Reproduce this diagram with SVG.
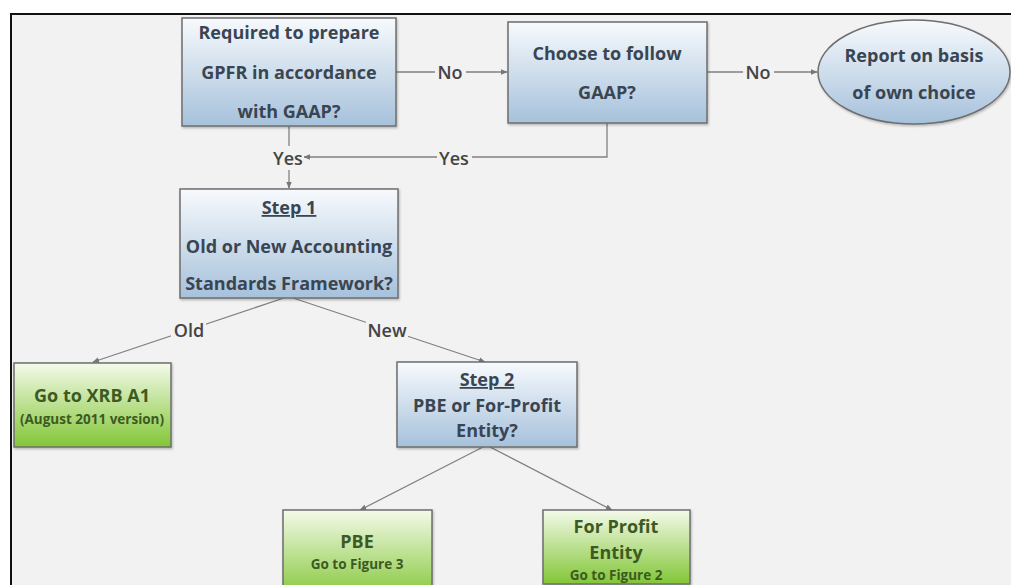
<svg xmlns="http://www.w3.org/2000/svg" width="1011" height="585" viewBox="0 0 1011 585">
<defs>
<linearGradient id="blue" x1="0" y1="0" x2="0" y2="1">
<stop offset="0" stop-color="#f7fafd"/>
<stop offset="1" stop-color="#a6c1db"/>
</linearGradient>
<linearGradient id="green" x1="0" y1="0" x2="0" y2="1">
<stop offset="0" stop-color="#f4faea"/>
<stop offset="1" stop-color="#82c636"/>
</linearGradient>
<marker id="arr" viewBox="0 0 10 10" refX="9" refY="5" markerWidth="7" markerHeight="7" orient="auto-start-reverse" markerUnits="userSpaceOnUse">
<path d="M0,1 L10,5 L0,9 z" fill="#777"/>
</marker>
<filter id="sh" x="-10%" y="-10%" width="120%" height="130%">
<feDropShadow dx="1" dy="1.5" stdDeviation="1" flood-color="#000" flood-opacity="0.25"/>
</filter>
</defs>
<style>
.box{stroke:#6e6e6e;stroke-width:1.5;filter:url(#sh)}
.t{font-family:"Open Sans","Noto Sans",sans-serif;font-weight:bold;font-size:18px;fill:#3a4552;text-anchor:middle}
.g{fill:#3c5a22}
.s{font-size:13.5px}
.lbl{font-family:"Open Sans","Noto Sans",sans-serif;font-weight:600;font-size:18px;fill:#444;text-anchor:middle}
.ln{stroke:#808080;stroke-width:1.3;fill:none}
</style>
<rect x="0" y="0" width="1011" height="585" fill="#ffffff"/>
<rect x="11" y="14" width="1010" height="580" fill="#f2f2f2" stroke="#111" stroke-width="2"/>

<g id="connectors">
<line class="ln" x1="396" y1="72" x2="507" y2="72" marker-end="url(#arr)"/>
<line class="ln" x1="707" y1="72" x2="817" y2="72" marker-end="url(#arr)"/>
<polyline class="ln" points="607,123 607,157 304,157" marker-end="url(#arr)"/>
<line class="ln" x1="289" y1="126" x2="289" y2="188" marker-end="url(#arr)"/>
<line class="ln" x1="284" y1="298" x2="93" y2="362" marker-end="url(#arr)"/>
<line class="ln" x1="293" y1="298" x2="485" y2="362" marker-end="url(#arr)"/>
<line class="ln" x1="483" y1="447" x2="360" y2="510" marker-end="url(#arr)"/>
<line class="ln" x1="490" y1="447" x2="612" y2="510" marker-end="url(#arr)"/>
<rect x="435" y="60" width="31" height="24" fill="#f2f2f2"/>
<text class="lbl" x="450" y="79">No</text>
<rect x="743" y="60" width="31" height="24" fill="#f2f2f2"/>
<text class="lbl" x="758" y="79">No</text>
<rect x="437" y="146" width="35" height="24" fill="#f2f2f2"/>
<text class="lbl" x="454" y="165">Yes</text>
<rect x="272" y="146" width="32" height="24" fill="#f2f2f2"/>
<text class="lbl" x="288" y="165">Yes</text>
<rect x="171" y="320" width="35" height="22" fill="#f2f2f2"/>
<text class="lbl" x="189" y="337">Old</text>
<rect x="366" y="320" width="42" height="22" fill="#f2f2f2"/>
<text class="lbl" x="387" y="337">New</text>
</g>

<g id="n-required">
<rect class="box" x="182" y="18" width="214" height="108" fill="url(#blue)"/>
<text class="t" x="289" y="39">Required to prepare</text>
<text class="t" x="289" y="79">GPFR in accordance</text>
<text class="t" x="289" y="118">with GAAP?</text>
</g>

<g id="n-choose">
<rect class="box" x="508" y="22" width="199" height="101" fill="url(#blue)"/>
<text class="t" x="607" y="60">Choose to follow</text>
<text class="t" x="607" y="99">GAAP?</text>
</g>

<g id="n-report">
<ellipse class="box" cx="914" cy="72" rx="96" ry="52" fill="url(#blue)"/>
<text class="t" x="914" y="62">Report on basis</text>
<text class="t" x="914" y="99">of own choice</text>
</g>

<g id="n-step1">
<rect class="box" x="180" y="189" width="218" height="109" fill="url(#blue)"/>
<text class="t" x="289" y="214" text-decoration="underline">Step 1</text>
<text class="t" x="289" y="253">Old or New Accounting</text>
<text class="t" x="289" y="290">Standards Framework?</text>
</g>

<g id="n-xrb">
<rect class="box" x="14" y="363" width="157" height="84" fill="url(#green)"/>
<text class="t g" x="92" y="402">Go to XRB A1</text>
<text class="t g s" x="92" y="424">(August 2011 version)</text>
</g>

<g id="n-step2">
<rect class="box" x="397" y="362" width="180" height="85" fill="url(#blue)"/>
<text class="t" x="487" y="386" text-decoration="underline">Step 2</text>
<text class="t" x="487" y="412">PBE or For-Profit</text>
<text class="t" x="487" y="437">Entity?</text>
</g>

<g id="n-pbe">
<rect class="box" x="283" y="510" width="149" height="90" fill="url(#green)"/>
<text class="t g" x="357" y="548">PBE</text>
<text class="t g s" x="357" y="569">Go to Figure 3</text>
</g>

<g id="n-forprofit">
<rect class="box" x="543" y="510" width="147" height="74" fill="url(#green)"/>
<text class="t g" x="616" y="533">For Profit</text>
<text class="t g" x="616" y="559">Entity</text>
<text class="t g s" x="616" y="580">Go to Figure 2</text>
</g>
</svg>
